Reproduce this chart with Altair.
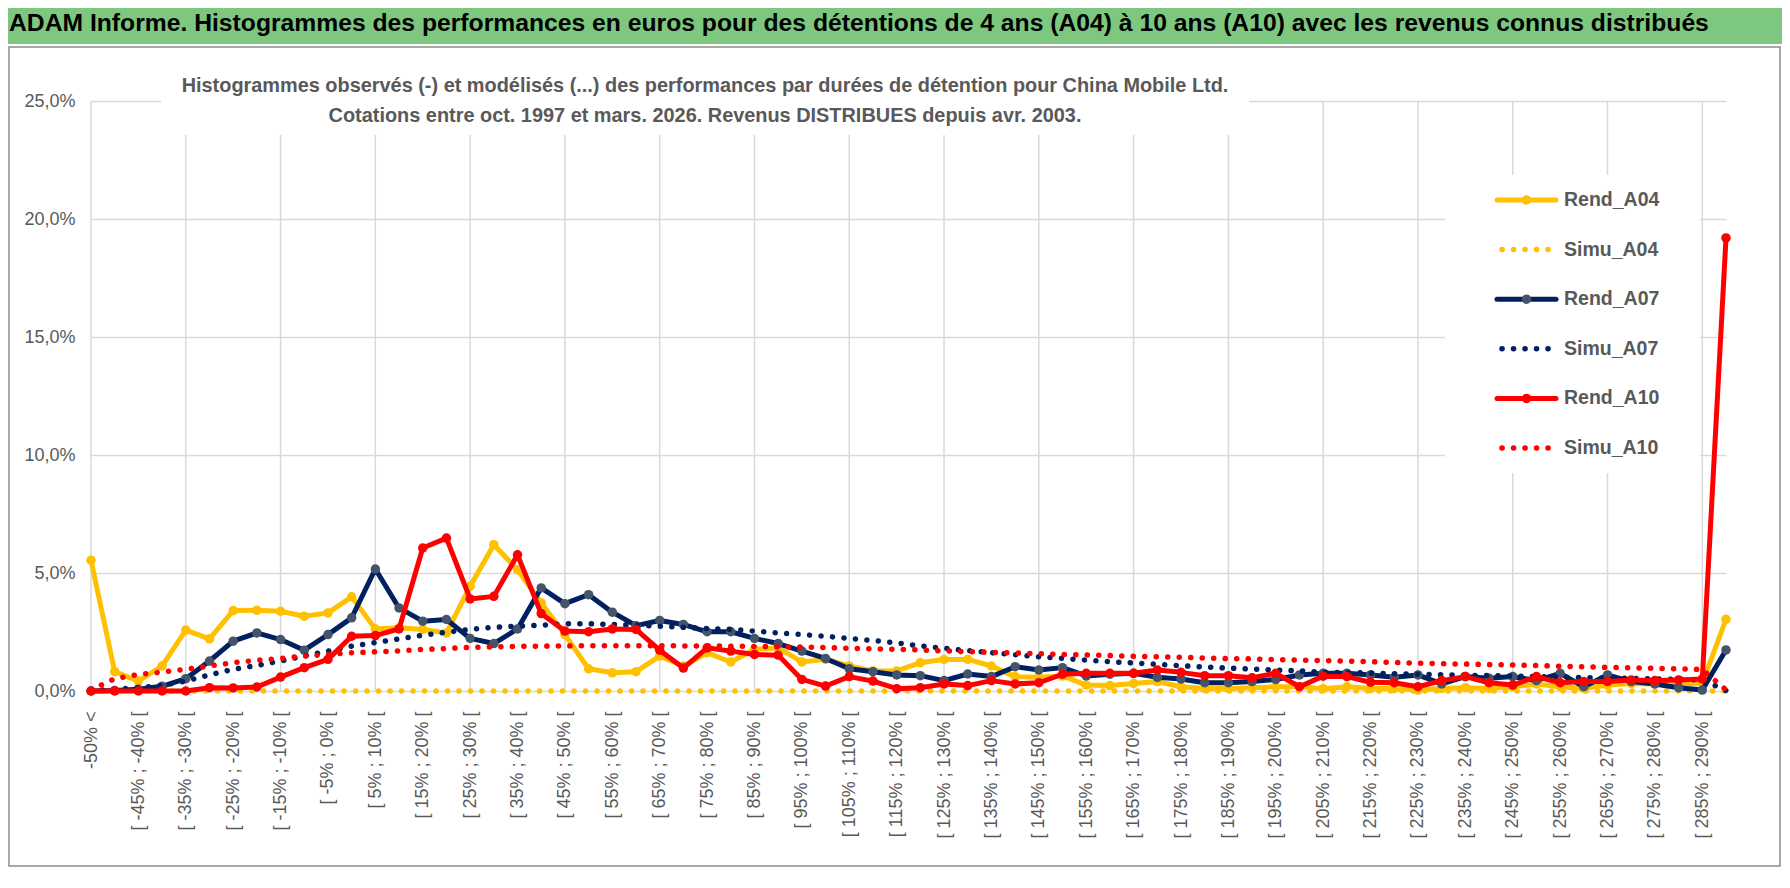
import json
import altair as alt
import pandas as pd

# ---------------- data ----------------
categories = ["-50% <"] + [f"[ {-50 + 5 * k}% ; {-45 + 5 * k}% [" for k in range(68)] + ["> 290%"]

rend_a04 = [5.54, 0.82, 0.42, 1.06, 2.58, 2.21, 3.41, 3.42, 3.38, 3.17,
            3.31, 3.99, 2.63, 2.68, 2.61, 2.46, 4.44, 6.20, 5.14, 3.73,
            2.39, 0.94, 0.77, 0.82, 1.48, 1.06, 1.62, 1.23, 1.76, 1.83,
            1.23, 1.34, 1.06, 0.85, 0.85, 1.20, 1.34, 1.34, 1.06, 0.61,
            0.58, 0.64, 0.25, 0.23, 0.32, 0.40, 0.18, 0.11, 0.11, 0.14,
            0.18, 0.18, 0.10, 0.18, 0.11, 0.11, 0.04, 0.11, 0.14, 0.11,
            0.18, 0.30, 0.18, 0.11, 0.25, 0.32, 0.30, 0.30, 0.32, 3.04]
simu_a04 = [0.0] * 70
rend_a07 = [0.00, 0.02, 0.07, 0.20, 0.52, 1.27, 2.11, 2.46, 2.18, 1.73,
            2.39, 3.10, 5.17, 3.52, 2.96, 3.03, 2.23, 2.01, 2.63, 4.37,
            3.70, 4.08, 3.34, 2.77, 2.99, 2.82, 2.51, 2.51, 2.23, 2.01,
            1.69, 1.38, 0.94, 0.82, 0.68, 0.65, 0.44, 0.72, 0.61, 1.03,
            0.89, 0.99, 0.64, 0.71, 0.75, 0.58, 0.51, 0.35, 0.35, 0.40,
            0.49, 0.68, 0.75, 0.75, 0.68, 0.58, 0.68, 0.30, 0.61, 0.54,
            0.61, 0.44, 0.75, 0.18, 0.68, 0.40, 0.30, 0.14, 0.04, 1.74]
simu_a07 = [0.02, 0.07, 0.14, 0.24, 0.42, 0.68, 0.92, 1.08, 1.27, 1.48,
            1.69, 1.90, 2.05, 2.21, 2.36, 2.49, 2.61, 2.70, 2.75, 2.79,
            2.85, 2.85, 2.82, 2.79, 2.75, 2.70, 2.65, 2.61, 2.54, 2.46,
            2.39, 2.32, 2.23, 2.14, 2.04, 1.91, 1.81, 1.71, 1.62, 1.54,
            1.45, 1.38, 1.31, 1.24, 1.19, 1.13, 1.07, 1.02, 0.97, 0.93,
            0.89, 0.85, 0.80, 0.78, 0.76, 0.73, 0.71, 0.69, 0.67, 0.65,
            0.63, 0.61, 0.59, 0.57, 0.55, 0.53, 0.51, 0.49, 0.47, 0.02]
rend_a10 = [0.00, 0.00, 0.00, 0.00, 0.00, 0.14, 0.13, 0.17, 0.59, 0.99,
            1.34, 2.32, 2.35, 2.63, 6.06, 6.48, 3.90, 4.01, 5.77, 3.28,
            2.54, 2.51, 2.63, 2.61, 1.73, 0.97, 1.83, 1.69, 1.55, 1.52,
            0.49, 0.21, 0.61, 0.42, 0.10, 0.14, 0.30, 0.23, 0.44, 0.30,
            0.35, 0.71, 0.75, 0.75, 0.75, 0.89, 0.79, 0.65, 0.65, 0.56,
            0.75, 0.18, 0.63, 0.61, 0.37, 0.35, 0.18, 0.44, 0.61, 0.35,
            0.25, 0.61, 0.35, 0.40, 0.40, 0.47, 0.44, 0.47, 0.51, 19.20]
simu_a10 = [0.05, 0.52, 0.70, 0.80, 0.92, 1.06, 1.20, 1.30, 1.38, 1.48,
            1.55, 1.62, 1.66, 1.70, 1.76, 1.80, 1.85, 1.87, 1.89, 1.90,
            1.91, 1.92, 1.92, 1.92, 1.92, 1.91, 1.91, 1.90, 1.89, 1.87,
            1.86, 1.84, 1.81, 1.79, 1.77, 1.74, 1.70, 1.67, 1.64, 1.61,
            1.58, 1.55, 1.53, 1.50, 1.47, 1.45, 1.43, 1.40, 1.37, 1.36,
            1.33, 1.31, 1.29, 1.27, 1.24, 1.21, 1.18, 1.16, 1.14, 1.12,
            1.10, 1.08, 1.05, 1.03, 1.00, 0.98, 0.96, 0.94, 0.91, 0.05]

series_names = ["Rend_A04", "Simu_A04", "Rend_A07", "Simu_A07", "Rend_A10", "Simu_A10"]
series_values = [rend_a04, simu_a04, rend_a07, simu_a07, rend_a10, simu_a10]
y_ticks = [0, 0.05, 0.10, 0.15, 0.20, 0.25]

title_text = ("ADAM Informe. Histogrammes des performances en euros pour des détentions "
              "de 4 ans (A04) à 10 ans (A10) avec les revenus connus distribués")
subtitle_lines = [
    "Histogrammes observés (-) et modélisés (...) des performances par durées de détention pour China Mobile Ltd.",
    "Cotations entre oct. 1997 et mars. 2026. Revenus DISTRIBUES depuis avr. 2003.",
]

# ---------------- styles ----------------
W, H = 1635, 590
PAD = {"left": 83, "top": 93, "right": 56, "bottom": 177}
TFONT = "Liberation Sans"
AXFONT = "Liberation Sans"
GRAY_TXT = "#595959"
GRID = "#D9D9D9"
styles = {
    "Rend_A04": dict(color="#FFC000", marker="#FFC000", dotted=False),
    "Simu_A04": dict(color="#FFC000", marker=None, dotted=True),
    "Rend_A07": dict(color="#002060", marker="#44546A", dotted=False),
    "Simu_A07": dict(color="#002060", marker=None, dotted=True),
    "Rend_A10": dict(color="#FF0000", marker="#FF0000", dotted=False),
    "Simu_A10": dict(color="#FF0000", marker=None, dotted=True),
}
DOT_DASH = [0.1, 11.4]
LINE_W = 5
DOT_W = 5.5
MARK_SIZE = 90

xscale = alt.Scale(domain=[0, len(categories) - 1], nice=False, zero=False)
yscale = alt.Scale(domain=[0, 0.25], nice=False)

label_expr = json.dumps(categories, ensure_ascii=False) + "[datum.value]"
xaxis = alt.Axis(values=list(range(0, len(categories) - 1, 2)), labelExpr=label_expr,
                 labelAngle=-90, labelAlign="right", labelBaseline="middle",
                 grid=False, ticks=False, domain=False, title=None,
                 labelFont=AXFONT, labelFontSize=18, labelColor=GRAY_TXT,
                 labelPadding=20, labelOverlap=False)
yaxis = alt.Axis(values=y_ticks, labelExpr="replace(format(datum.value, '.1%'), '.', ',')",
                 grid=True, gridColor=GRID, gridWidth=1.5, ticks=False, domain=False,
                 title=None, labelFont=AXFONT, labelFontSize=18, labelColor=GRAY_TXT,
                 labelPadding=16)

X = alt.X("idx:Q", scale=xscale, axis=xaxis)
Y = alt.Y("val:Q", scale=yscale, axis=yaxis)

one = alt.Data(values=[{"k": 0}])
layers = []

# banner and frame
layers.append(alt.Chart(one).mark_rect(color="#7DC87E").encode(
    x=alt.value(-83), x2=alt.value(1691), y=alt.value(-93), y2=alt.value(-57)))
layers.append(alt.Chart(one).mark_rect(fill=None, fillOpacity=0, stroke="#8C8C8C", strokeWidth=1.5).encode(
    x=alt.value(-82), x2=alt.value(1689), y=alt.value(-54), y2=alt.value(765)))
layers.append(alt.Chart(one).mark_text(text=title_text, align="left", baseline="middle",
                                       font=TFONT, fontSize=24.7, fontWeight="bold", color="#000000").encode(
    x=alt.value(-82), y=alt.value(-77)))

# vertical gridlines every 4 categories
grid_df = pd.DataFrame({"idx": list(range(0, len(categories), 4))})
layers.append(alt.Chart(grid_df).mark_rule(color=GRID, strokeWidth=1.5).encode(
    x=X, y=alt.value(0), y2=alt.value(H)))

# white boxes behind subtitle and legend
layers.append(alt.Chart(one).mark_rect(color="white").encode(
    x=alt.value(70), x2=alt.value(1158), y=alt.value(-33), y2=alt.value(34)))
layers.append(alt.Chart(one).mark_rect(color="white").encode(
    x=alt.value(1354), x2=alt.value(1609), y=alt.value(74), y2=alt.value(372)))

# subtitle
for i, line in enumerate(subtitle_lines):
    layers.append(alt.Chart(one).mark_text(text=line, align="center", baseline="middle",
                                           font=TFONT, fontSize=19.9, fontWeight="bold",
                                           color=GRAY_TXT).encode(
        x=alt.value(614), y=alt.value(-15 + 30 * i)))

# data series
for name, vals in zip(series_names, series_values):
    st = styles[name]
    df = pd.DataFrame({"idx": list(range(len(vals))), "val": [v / 100 for v in vals]})
    if st["dotted"]:
        layers.append(alt.Chart(df).mark_line(color=st["color"], strokeWidth=DOT_W,
                                              strokeDash=DOT_DASH, strokeCap="round").encode(x=X, y=Y))
    else:
        layers.append(alt.Chart(df).mark_line(color=st["color"], strokeWidth=LINE_W,
                                              strokeJoin="round", strokeCap="round").encode(x=X, y=Y))
        layers.append(alt.Chart(df).mark_circle(color=st["marker"], size=MARK_SIZE, opacity=1).encode(x=X, y=Y))

# legend
leg_y0, leg_dy = 99, 49.6
for i, name in enumerate(series_names):
    st = styles[name]
    yy = leg_y0 + leg_dy * i
    if st["dotted"]:
        layers.append(alt.Chart(one).mark_rule(color=st["color"], strokeWidth=DOT_W, strokeDash=DOT_DASH,
                                               strokeCap="round").encode(
            x=alt.value(1411), x2=alt.value(1462), y=alt.value(yy)))
    else:
        layers.append(alt.Chart(one).mark_rule(color=st["color"], strokeWidth=LINE_W, strokeCap="round").encode(
            x=alt.value(1406), x2=alt.value(1465), y=alt.value(yy)))
        layers.append(alt.Chart(one).mark_circle(color=st["marker"], size=MARK_SIZE, opacity=1).encode(
            x=alt.value(1435.5), y=alt.value(yy)))
    layers.append(alt.Chart(one).mark_text(text=name, align="left", baseline="middle", font=TFONT,
                                           fontSize=19.5, fontWeight="bold", color=GRAY_TXT).encode(
        x=alt.value(1473), y=alt.value(yy)))

chart = alt.layer(*layers).properties(
    width=W, height=H,
    autosize=alt.AutoSizeParams(type="none"),
    padding=PAD,
    background="white",
).configure_view(stroke=None)

chart.save("out.html", embed_options={"renderer": "svg", "actions": False})
